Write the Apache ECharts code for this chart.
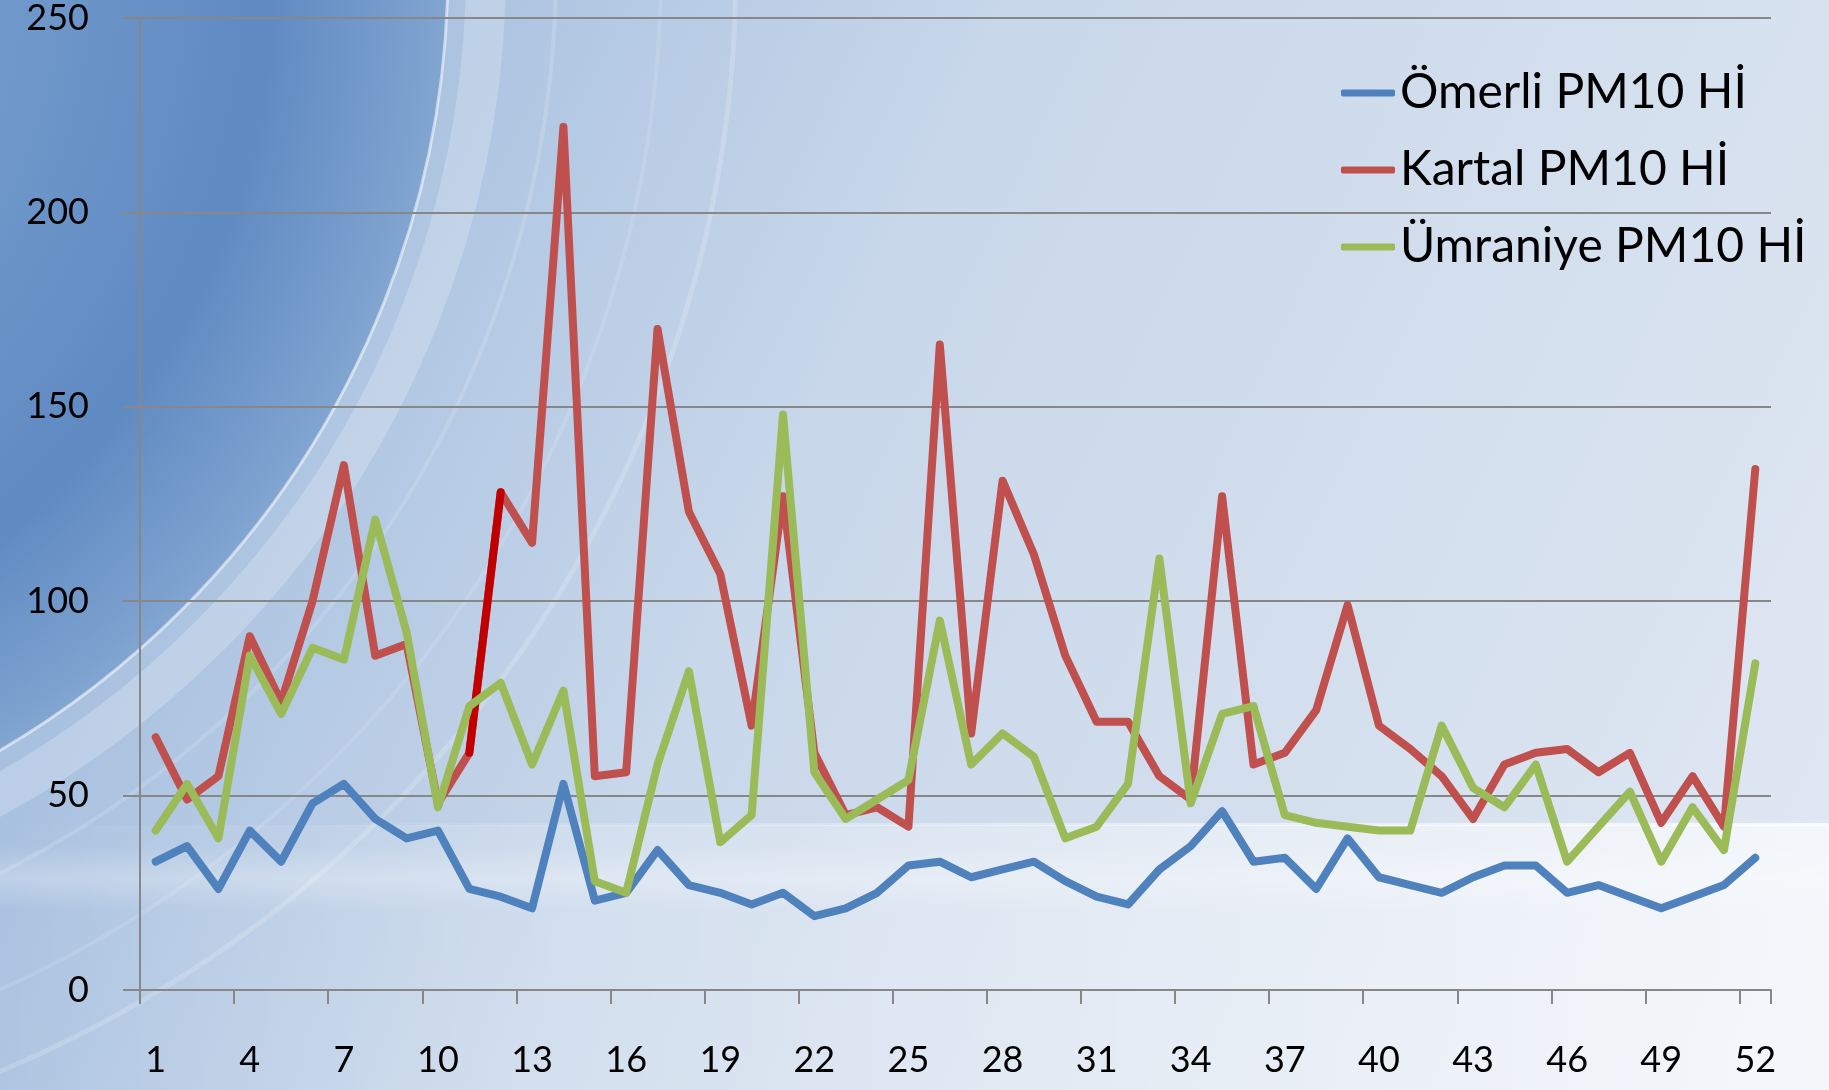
<!DOCTYPE html>
<html>
<head>
<meta charset="utf-8">
<script src="https://cdn.jsdelivr.net/npm/echarts@6/dist/echarts.min.js"></script>
<style>
    html, body { margin: 0; padding: 0; }
    #chart { width: 1829px; height: 1090px; }
</style>
</head>
<body>
<div id="chart"></div>
<script>
    // week numbers
    var weeks = ['1','2','3','4','5','6','7','8','9','10','11','12','13','14','15','16','17','18','19','20',
        '21','22','23','24','25','26','27','28','29','30','31','32','33','34','35','36','37','38','39','40',
        '41','42','43','44','45','46','47','48','49','50','51','52'];

    var omerli = [33,37,26,41,33,48,53,44,39,41, 26,24,21,53,23,25,36,27,25,22,
        25,19,21,25,32,33,29,31,33,28, 24,22,31,37,46,33,34,26,39,29,
        27,25,29,32,32,25,27,24,21,24, 27,34];
    var kartal = [65,49,55,91,74,100,135,86,89,48, 61,128,115,222,55,56,170,123,107,68,
        127,61,45,47,42,166,66,131,112,86, 69,69,55,49,127,58,61,72,99,68,
        62,55,44,58,61,62,56,61,43,55, 42,134];
    var umraniye = [41,53,39,86,71,88,85,121,92,47, 73,79,58,77,28,25,58,82,38,45,
        148,56,44,49,54,95,58,66,60,39, 42,53,111,48,71,73,45,43,42,41,
        41,68,52,47,58,33,42,51,33,47, 36,84];

    var names = ['Ömerli PM10 Hİ', 'Kartal PM10 Hİ', 'Ümraniye PM10 Hİ'];
    // week 11 -> 12 segment of Kartal is drawn darker
    var darkWeeks = ['11', '12'];

    var chart = echarts.init(document.getElementById('chart'));
    var gray = '#878787';
    var font = 'Lato';

    var darkSeg = kartal.map(function (v, i) {
        return darkWeeks.indexOf(weeks[i]) >= 0 ? v : '-';
    });

    function lineSeries(name, data, color, z) {
        return {
            name: name,
            type: 'line',
            data: data,
            z: z,
            showSymbol: false,
            symbol: 'none',
            smooth: false,
            color: color,
            lineStyle: { color: color, width: 8, cap: 'round', join: 'round' }
        };
    }

    // background rings around the top-left corner
    function ring(r, alpha, width, z) {
        return {
            type: 'circle', z: z, silent: true,
            shape: { cx: -459, cy: -32, r: r },
            style: { fill: 'rgba(255,255,255,0)', stroke: 'rgba(255,255,255,' + alpha + ')', lineWidth: width }
        };
    }

    var option = {
        animation: false,
        backgroundColor: '#dfe7f2',
        graphic: [
            {
                type: 'rect', z: -30, silent: true,
                shape: { x: 0, y: 0, width: 1829, height: 1090 },
                style: {
                    fill: new echarts.graphic.LinearGradient(0, 0, 1, 0.8, [
                        { offset: 0, color: '#94b3d9' },
                        { offset: 0.45, color: '#c8d7ea' },
                        { offset: 1, color: '#dfe7f2' }
                    ])
                }
            },
            ring(1195, 0.18, 5, -29),
            ring(1120, 0.12, 4, -29),
            ring(1015, 0.15, 4, -29),
            ring(945, 0.22, 40, -28),
            {
                type: 'circle', z: -26, silent: true,
                shape: { cx: -459, cy: -32, r: 907 },
                style: {
                    fill: new echarts.graphic.RadialGradient(0.5, 0.5, 0.5, [
                        { offset: 0.5, color: '#7199cb' },
                        { offset: 0.8, color: '#5f8ac2' },
                        { offset: 1, color: '#82a5d1' }
                    ]),
                    stroke: 'rgba(255,255,255,0.55)',
                    lineWidth: 3
                }
            },
            {
                type: 'rect', z: -25, silent: true,
                shape: { x: 0, y: 845, width: 1829, height: 66 },
                style: {
                    fill: new echarts.graphic.LinearGradient(0, 0, 0, 1, [
                        { offset: 0, color: 'rgba(255,255,255,0)' },
                        { offset: 0.5, color: 'rgba(255,255,255,0.25)' },
                        { offset: 1, color: 'rgba(255,255,255,0)' }
                    ])
                }
            },
            {
                type: 'rect', z: -24, silent: true,
                shape: { x: 0, y: 825, width: 1829, height: 265 },
                style: {
                    fill: new echarts.graphic.LinearGradient(0, 0, 1, 0, [
                        { offset: 0, color: 'rgba(255,255,255,0)' },
                        { offset: 0.4, color: 'rgba(255,255,255,0.25)' },
                        { offset: 1, color: 'rgba(255,255,255,0.65)' }
                    ])
                }
            },
            {
                type: 'rect', z: -23, silent: true,
                shape: { x: 300, y: 823, width: 1529, height: 3 },
                style: {
                    fill: new echarts.graphic.LinearGradient(0, 0, 1, 0, [
                        { offset: 0, color: 'rgba(255,255,255,0)' },
                        { offset: 1, color: 'rgba(255,255,255,0.8)' }
                    ])
                }
            }
        ],
        grid: { left: 140, right: 58, top: 15, bottom: 100, containLabel: false },
        legend: {
            orient: 'vertical',
            left: 1336,
            top: 63,
            itemWidth: 54,
            itemHeight: 7,
            itemGap: 27,
            icon: 'roundRect',
            selectedMode: false,
            data: names,
            textStyle: { fontFamily: font, fontSize: 48, color: '#000', lineHeight: 50, padding: [0, 0, 0, 0] }
        },
        xAxis: {
            type: 'category',
            data: weeks,
            boundaryGap: true,
            axisLine: { lineStyle: { color: gray, width: 2 } },
            axisTick: { show: true, interval: 2, length: 14, lineStyle: { color: gray, width: 2 } },
            axisLabel: { interval: 2, margin: 52, fontFamily: font, fontSize: 36, color: '#000' },
            splitLine: { show: false }
        },
        yAxis: {
            type: 'value',
            min: 0,
            max: 250,
            interval: 50,
            axisLine: { show: true, lineStyle: { color: gray, width: 2 } },
            axisTick: { show: true, length: 17, lineStyle: { color: gray, width: 2 } },
            axisLabel: { margin: 51, fontFamily: font, fontSize: 36, color: '#000' },
            splitLine: { lineStyle: { color: gray, width: 2 } }
        },
        series: [
            lineSeries(names[0], omerli, '#4F81BD', 2),
            lineSeries(names[1], kartal, '#C0504D', 3),
            lineSeries('kartal-dark', darkSeg, '#C00000', 4),
            lineSeries(names[2], umraniye, '#9BBB59', 5)
        ]
    };
    chart.setOption(option);
</script>
</body>
</html>
